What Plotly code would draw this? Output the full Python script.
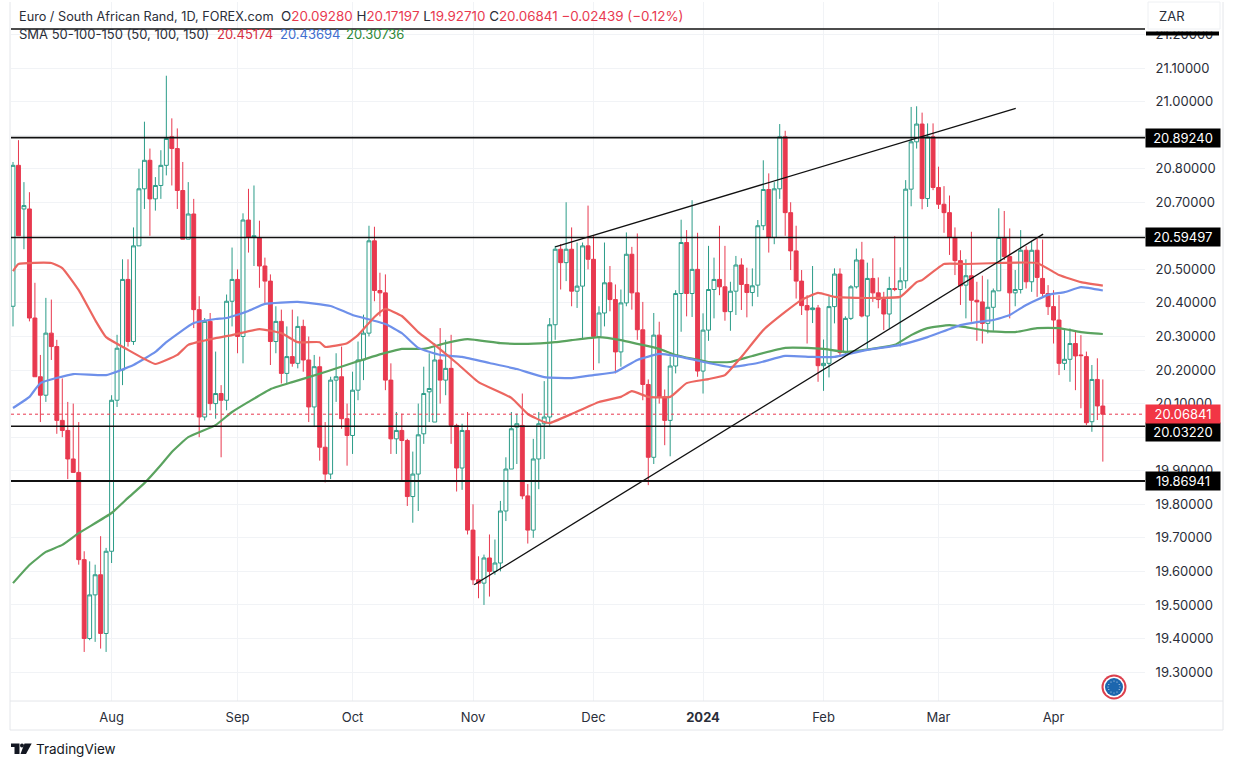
import plotly.graph_objects as go

# EUR/ZAR daily candles (Jul 2023 - Apr 2024)
opens = [
    20.39, 20.81, 20.68, 20.68, 20.355, 20.18, 20.125, 20.31, 20.27, 20.05,
    20.02, 19.935, 19.895, 19.635, 19.40, 19.53, 19.59, 19.415, 19.66, 20.11,
    20.20, 20.47, 20.285, 20.57, 20.74, 20.825, 20.71, 20.75, 20.81, 20.895,
    20.86, 20.735, 20.59, 20.665, 20.38, 20.06, 20.345, 20.10, 20.13, 20.11,
    20.405, 20.47, 20.30, 20.647, 20.595, 20.595, 20.51, 20.465, 20.285, 20.345,
    20.19, 20.24, 20.22, 20.33, 20.23, 20.09, 20.21, 19.97, 19.89, 20.17,
    20.18, 20.055, 20.005, 20.14, 20.23, 20.31, 20.585, 20.437, 20.43, 20.17,
    19.995, 20.02, 19.99, 19.823, 19.89, 20.01, 20.135, 20.045, 20.23, 20.17,
    20.205, 20.035, 19.908, 20.02, 19.723, 19.575, 19.565, 19.64, 19.60, 19.625,
    19.78, 19.905, 20.03, 20.035, 19.825, 19.723, 19.935, 20.04, 20.06, 20.335,
    20.56, 20.52, 20.56, 20.435, 20.45, 20.57, 20.53, 20.30, 20.37, 20.46,
    20.41, 20.254, 20.40, 20.545, 20.43, 20.32, 20.157, 19.94, 20.304, 20.12,
    20.05, 20.212, 20.428, 20.58, 20.428, 20.50, 20.197, 20.319, 20.44, 20.47,
    20.448, 20.374, 20.435, 20.513, 20.455, 20.431, 20.453, 20.63, 20.738, 20.595,
    20.74, 20.895, 20.669, 20.555, 20.465, 20.392, 20.38, 20.385, 20.213, 20.22,
    20.389, 20.486, 20.252, 20.354, 20.448, 20.528, 20.361, 20.473, 20.43, 20.41,
    20.367, 20.443, 20.44, 20.466, 20.739, 20.88, 20.933, 20.711, 20.895, 20.744,
    20.694, 20.669, 20.595, 20.526, 20.453, 20.481, 20.408, 20.403, 20.339, 20.387,
    20.436, 20.595, 20.538, 20.43, 20.44, 20.557, 20.463, 20.557, 20.473, 20.428,
    20.389, 20.349, 20.22, 20.232, 20.279, 20.245, 20.24, 20.046, 20.172, 20.0928,
]
highs = [
    20.82, 20.885, 20.76, 20.73, 20.46, 20.245, 20.415, 20.41, 20.29, 20.175,
    20.105, 20.10, 20.045, 19.66, 19.63, 19.62, 19.705, 19.67, 20.125, 20.305,
    20.53, 20.53, 20.625, 20.80, 20.94, 20.86, 20.775, 20.855, 21.077, 20.95,
    20.92, 20.82, 20.76, 20.71, 20.42, 20.355, 20.37, 20.255, 20.155, 20.425,
    20.565, 20.50, 20.667, 20.74, 20.75, 20.645, 20.535, 20.485, 20.39, 20.38,
    20.33, 20.38, 20.36, 20.35, 20.30, 20.245, 20.24, 20.045, 20.18, 20.25,
    20.27, 20.10, 20.195, 20.285, 20.365, 20.63, 20.627, 20.49, 20.485, 20.22,
    20.075, 20.07, 19.995, 19.957, 20.10, 20.21, 20.25, 20.28, 20.325, 20.29,
    20.305, 20.04, 20.04, 20.075, 19.80, 19.645, 19.65, 19.71, 19.695, 19.81,
    19.94, 20.075, 20.07, 20.13, 19.86, 19.995, 20.075, 20.167, 20.355, 20.57,
    20.575, 20.70, 20.625, 20.58, 20.58, 20.69, 20.60, 20.39, 20.58, 20.51,
    20.455, 20.44, 20.61, 20.567, 20.607, 20.403, 20.172, 20.37, 20.344, 20.142,
    20.24, 20.438, 20.648, 20.617, 20.706, 20.609, 20.369, 20.57, 20.535, 20.63,
    20.57, 20.463, 20.54, 20.533, 20.505, 20.503, 20.647, 20.825, 20.786, 20.76,
    20.933, 20.913, 20.70, 20.63, 20.498, 20.423, 20.51, 20.394, 20.291, 20.42,
    20.503, 20.503, 20.36, 20.453, 20.562, 20.582, 20.52, 20.533, 20.476, 20.433,
    20.478, 20.599, 20.506, 20.766, 20.984, 20.986, 20.967, 20.935, 20.935, 20.806,
    20.748, 20.72, 20.625, 20.557, 20.53, 20.612, 20.463, 20.481, 20.47, 20.443,
    20.682, 20.674, 20.622, 20.498, 20.617, 20.569, 20.585, 20.592, 20.589, 20.453,
    20.438, 20.423, 20.319, 20.324, 20.314, 20.304, 20.255, 20.215, 20.235, 20.17197,
]
lows = [
    20.33, 20.60, 20.56, 20.345, 20.18, 20.045, 20.105, 20.23, 20.01, 20.00,
    19.875, 19.895, 19.62, 19.36, 19.395, 19.39, 19.37, 19.36, 19.625, 20.09,
    20.155, 20.27, 20.275, 20.57, 20.68, 20.60, 20.675, 20.71, 20.78, 20.75,
    20.68, 20.59, 20.59, 20.325, 20.00, 20.05, 20.08, 20.055, 19.94, 20.08,
    20.33, 20.25, 20.22, 20.55, 20.51, 20.445, 20.40, 20.215, 20.25, 20.16,
    20.16, 20.21, 20.205, 20.195, 20.045, 20.03, 19.93, 19.865, 19.875, 20.105,
    20.025, 19.915, 19.95, 20.11, 20.17, 20.30, 20.405, 20.36, 20.14, 19.95,
    19.95, 19.87, 19.795, 19.745, 19.78, 19.98, 20.045, 20.045, 20.10, 20.125,
    19.98, 19.838, 19.843, 19.71, 19.56, 19.52, 19.50, 19.525, 19.59, 19.60,
    19.75, 19.905, 19.92, 19.815, 19.683, 19.70, 19.845, 19.935, 20.03, 20.29,
    20.44, 20.465, 20.39, 20.385, 20.295, 20.50, 20.20, 20.22, 20.33, 20.375,
    20.19, 20.21, 20.39, 20.38, 20.29, 20.11, 19.857, 19.92, 20.10, 19.976,
    19.943, 20.19, 20.314, 20.36, 20.358, 20.18, 20.13, 20.287, 20.354, 20.423,
    20.347, 20.317, 20.364, 20.379, 20.357, 20.39, 20.418, 20.617, 20.55, 20.575,
    20.71, 20.60, 20.498, 20.413, 20.364, 20.279, 20.34, 20.165, 20.138, 20.178,
    20.339, 20.24, 20.248, 20.349, 20.443, 20.357, 20.264, 20.403, 20.384, 20.319,
    20.324, 20.435, 20.27, 20.443, 20.688, 20.86, 20.679, 20.686, 20.736, 20.68,
    20.609, 20.543, 20.483, 20.394, 20.354, 20.344, 20.287, 20.279, 20.309, 20.317,
    20.436, 20.528, 20.354, 20.39, 20.428, 20.443, 20.433, 20.418, 20.418, 20.364,
    20.279, 20.185, 20.20, 20.165, 20.14, 20.086, 20.036, 20.016, 20.051, 19.9271,
]
closes = [
    20.81, 20.60, 20.69, 20.355, 20.18, 20.125, 20.31, 20.27, 20.05, 20.02,
    19.935, 19.895, 19.635, 19.40, 19.53, 19.59, 19.415, 19.66, 20.11, 20.265,
    20.47, 20.285, 20.57, 20.74, 20.825, 20.71, 20.75, 20.81, 20.89, 20.86,
    20.735, 20.59, 20.665, 20.38, 20.06, 20.345, 20.10, 20.13, 20.11, 20.405,
    20.47, 20.30, 20.647, 20.595, 20.60, 20.51, 20.465, 20.285, 20.345, 20.19,
    20.24, 20.22, 20.33, 20.23, 20.09, 20.21, 19.97, 19.89, 20.17, 20.18,
    20.055, 20.005, 20.14, 20.23, 20.31, 20.585, 20.437, 20.43, 20.17, 19.995,
    20.02, 19.99, 19.823, 19.89, 20.007, 20.13, 20.145, 20.23, 20.17, 20.205,
    20.035, 19.908, 20.02, 19.723, 19.575, 19.565, 19.64, 19.60, 19.625, 19.78,
    19.905, 20.025, 20.04, 19.825, 19.723, 19.935, 20.04, 20.06, 20.335, 20.56,
    20.52, 20.56, 20.435, 20.45, 20.57, 20.53, 20.30, 20.37, 20.46, 20.41,
    20.254, 20.40, 20.545, 20.43, 20.32, 20.157, 19.94, 20.304, 20.12, 20.05,
    20.212, 20.428, 20.58, 20.428, 20.50, 20.197, 20.319, 20.44, 20.47, 20.448,
    20.374, 20.435, 20.513, 20.455, 20.431, 20.451, 20.63, 20.738, 20.595, 20.74,
    20.895, 20.669, 20.555, 20.465, 20.392, 20.379, 20.385, 20.213, 20.22, 20.389,
    20.486, 20.252, 20.354, 20.448, 20.528, 20.361, 20.473, 20.43, 20.41, 20.367,
    20.443, 20.44, 20.466, 20.739, 20.88, 20.933, 20.711, 20.895, 20.744, 20.694,
    20.669, 20.595, 20.526, 20.451, 20.481, 20.408, 20.403, 20.339, 20.387, 20.436,
    20.595, 20.538, 20.43, 20.44, 20.557, 20.463, 20.557, 20.476, 20.428, 20.389,
    20.349, 20.22, 20.232, 20.279, 20.242, 20.243, 20.043, 20.172, 20.093, 20.06841,
]

# moving averages, read at the bars where the curves bend
sma50_bar = [0, 1, 7, 9, 12, 15, 17, 21, 24, 26, 30, 32, 37, 40, 45, 49, 52, 56, 57, 61,
             63, 66, 68, 71, 74, 77, 81, 85, 91, 94, 97, 98, 102, 107, 111, 113, 116, 120,
             123, 127, 130, 133, 137, 141, 144, 147, 150, 154, 158, 162, 165, 166, 170,
             174, 180, 187, 191, 195, 199]
sma50 = [20.495, 20.516, 20.519, 20.504, 20.438, 20.349, 20.298, 20.26, 20.233, 20.218,
         20.245, 20.275, 20.295, 20.304, 20.322, 20.31, 20.283, 20.283, 20.269, 20.28,
         20.304, 20.358, 20.382, 20.361, 20.313, 20.275, 20.221, 20.164, 20.117, 20.069,
         20.045, 20.042, 20.069, 20.105, 20.12, 20.137, 20.12, 20.12, 20.161, 20.173,
         20.185, 20.239, 20.319, 20.373, 20.409, 20.43, 20.418, 20.415, 20.415, 20.418,
         20.462, 20.468, 20.516, 20.516, 20.519, 20.519, 20.483, 20.462, 20.45174]
sma100_bar = [0, 3, 5, 11, 17, 22, 26, 28, 33, 37, 39, 43, 46, 52, 58, 62, 68, 71, 74, 78,
              82, 87, 92, 97, 102, 106, 110, 114, 118, 121, 127, 131, 136, 141, 146, 150,
              156, 162, 167, 173, 176, 179, 182, 185, 189, 192, 195, 199]
sma100 = [20.087, 20.12, 20.161, 20.188, 20.185, 20.215, 20.254, 20.283, 20.34, 20.352,
          20.355, 20.376, 20.397, 20.403, 20.391, 20.364, 20.337, 20.31, 20.266, 20.245,
          20.239, 20.221, 20.203, 20.179, 20.176, 20.185, 20.194, 20.23, 20.248, 20.242,
          20.221, 20.209, 20.221, 20.242, 20.239, 20.239, 20.26, 20.275, 20.298, 20.334,
          20.343, 20.349, 20.364, 20.394, 20.424, 20.432, 20.447, 20.43694]
sma150_bar = [0, 3, 6, 9, 12, 18, 21, 24, 27, 29, 32, 37, 40, 43, 47, 51, 57, 62, 68, 71,
              75, 79, 83, 89, 94, 99, 102, 107, 111, 114, 118, 121, 127, 131, 135, 141,
              145, 148, 152, 158, 161, 164, 167, 171, 174, 178, 183, 187, 191, 195, 199]
sma150 = [19.565, 19.619, 19.658, 19.679, 19.714, 19.774, 19.819, 19.863, 19.917, 19.956,
          20.0, 20.036, 20.075, 20.105, 20.143, 20.164, 20.194, 20.221, 20.251, 20.263,
          20.263, 20.28, 20.292, 20.28, 20.278, 20.283, 20.289, 20.298, 20.289, 20.278,
          20.263, 20.245, 20.224, 20.224, 20.242, 20.266, 20.266, 20.263, 20.254, 20.266,
          20.275, 20.304, 20.325, 20.334, 20.328, 20.316, 20.313, 20.325, 20.325, 20.313,
          20.30736]

# drawn levels and trend lines
levels = [21.2165, 20.8924, 20.59497, 20.0322, 19.86941]
level_labels = ["", "20.89240", "20.59497", "20.03220", "19.86941"]
level_widths = [1.5, 1.8, 1.5, 1.5, 2]
trend_lower_bar = [84.2, 188.1]
trend_lower = [19.56, 20.605]
trend_upper_bar = [99, 183.1]
trend_upper = [20.567, 20.98]
last_price = 20.06841

price_ticks = [19.3, 19.4, 19.5, 19.6, 19.7, 19.8, 19.9, 20.0, 20.1, 20.2, 20.3, 20.4,
               20.5, 20.6, 20.7, 20.8, 20.9, 21.0, 21.1, 21.2]
# 20.0, 20.6 and 20.9 sit behind the level tags, so the chart leaves them out
price_labels = ["19.30000", "19.40000", "19.50000", "19.60000", "19.70000", "19.80000",
                "19.90000", "", "20.10000", "20.20000", "20.30000", "20.40000", "20.50000",
                "", "20.70000", "20.80000", "", "21.00000", "21.10000", "21.20000"]
month_bars = [18, 41, 62, 84, 106, 126, 148, 169, 190]
month_labels = ["Aug", "Sep", "Oct", "Nov", "Dec", "<b>2024</b>", "Feb", "Mar", "Apr"]

RED = "#E8394F"
TEAL = "#2B9C88"
TEXT = "#2A2E39"
GRID = "#F1F3F6"
BORDER = "#E4E6EA"
FONT = "Inter"

# plot box in page pixels
WIDTH, HEIGHT = 1234, 768
LEFT, RIGHT, TOP, BOTTOM = 11, 1145, 2, 701


def px(x):
    return (x - LEFT) / (RIGHT - LEFT)


def py(y):
    return (BOTTOM - y) / (BOTTOM - TOP)


def box(x0, y0, x1, y1, **kw):
    return dict(type="rect", xref="paper", yref="paper", x0=px(x0), x1=px(x1),
                y0=py(y0), y1=py(y1), **kw)


def dot(cx, cy, r, color):
    return dict(type="circle", xref="paper", yref="paper", layer="above",
                x0=px(cx - r), x1=px(cx + r), y0=py(cy + r), y1=py(cy - r),
                fillcolor=color, line=dict(width=0))


def label(x, y, text, **kw):
    # annotation padding pushes the text about 2px right
    return dict(xref="paper", yref="paper", x=px(x - 2), y=py(y), text=text, showarrow=False,
                xanchor="left", yanchor="middle", **kw)


bars = list(range(len(closes)))

fig = go.Figure()

fig.add_trace(go.Candlestick(
    x=bars, open=opens, high=highs, low=lows, close=closes,
    increasing=dict(fillcolor="#FFFFFF", line=dict(color=TEAL, width=1)),
    decreasing=dict(fillcolor=RED, line=dict(color=RED, width=1)),
    whiskerwidth=0,
))

for xs, ys, color in [(sma150_bar, sma150, "#5AA35F"),
                      (sma100_bar, sma100, "#6E90EA"),
                      (sma50_bar, sma50, "#EC6660")]:
    fig.add_trace(go.Scatter(x=xs, y=ys, mode="lines",
                             line=dict(color=color, width=2.2, shape="spline", smoothing=0.4)))

for xs, ys in [(trend_lower_bar, trend_lower), (trend_upper_bar, trend_upper)]:
    fig.add_trace(go.Scatter(x=xs, y=ys, mode="lines", line=dict(color="#111111", width=1.3)))

shapes = [
    # frame and axis band
    dict(type="line", xref="paper", yref="paper", x0=px(10), x1=px(10), y0=py(730), y1=py(2),
         line=dict(color=BORDER, width=1)),
    dict(type="line", xref="paper", yref="paper", x0=px(1223), x1=px(1223), y0=py(730), y1=py(2),
         line=dict(color=BORDER, width=1)),
    dict(type="line", xref="paper", yref="paper", x0=px(10), x1=px(1223), y0=py(701), y1=py(701),
         line=dict(color=BORDER, width=1)),
    dict(type="line", xref="paper", yref="paper", x0=px(10), x1=px(1223), y0=py(730), y1=py(730),
         line=dict(color=BORDER, width=1)),
    # currency box hides the top of the 21.2 tick label
    box(1146, 0, 1222, 31.5, layer="above", fillcolor="#FFFFFF", line=dict(width=0)),
    box(1146, 31.5, 1219, 35.5, layer="above", fillcolor="#000000", line=dict(width=0)),
    box(1148, 2, 1220, 29, layer="above", fillcolor="#FFFFFF", line=dict(color="#EEF0F3", width=1)),
    # pair flag badge
    dot(1114, 687, 12.5, "#DC3F4C"),
    dot(1114, 687, 10.5, "#FFFFFF"),
    dot(1114, 687, 9, "#1C66AE"),
    # TradingView logo
    dict(type="path", xref="paper", yref="paper", layer="above", fillcolor="#131722", line=dict(width=0),
         path=f"M{px(11)},{py(743.5)} L{px(19.5)},{py(743.5)} L{px(19.5)},{py(754)} L{px(14.5)},{py(754)} "
              f"L{px(14.5)},{py(747)} L{px(11)},{py(747)} Z"),
    dict(type="path", xref="paper", yref="paper", layer="above", fillcolor="#131722", line=dict(width=0),
         path=f"M{px(24.5)},{py(743.5)} L{px(31.7)},{py(743.5)} L{px(26)},{py(754)} L{px(20.5)},{py(754)} Z"),
    dot(22, 745.6, 2, "#131722"),
]
# ring of stars on the flag
for sx, sy in [(1114, 681), (1117, 682), (1119.2, 684.5), (1120, 687), (1119.2, 689.5), (1117, 692),
               (1114, 693), (1111, 692), (1108.8, 689.5), (1108, 687), (1108.8, 684.5), (1111, 682)]:
    shapes.append(dot(sx, sy, 0.6, "#CFDDEB"))

annotations = [
    label(19, 16, "Euro / South African Rand, 1D, FOREX.com", font=dict(family=FONT, size=12.7, color=TEXT)),
    label(281, 16,
          f"O<span style='color:{RED}'>20.09280</span> H<span style='color:{RED}'>20.17197</span> "
          f"L<span style='color:{RED}'>19.92710</span> C<span style='color:{RED}'>20.06841</span> "
          f"<span style='color:{RED}'>\u22120.02439 (\u22120.12%)</span>",
          font=dict(family=FONT, size=13.4, color=TEXT)),
    label(19, 34, "SMA 50-100-150 (50, 100, 150)", font=dict(family=FONT, size=13, color=TEXT)),
    label(217, 34, "20.45174", font=dict(family=FONT, size=13, color="#D6303F")),
    label(280, 34, "20.43694", font=dict(family=FONT, size=13, color="#3F6FCF")),
    label(346, 34, "20.30736", font=dict(family=FONT, size=13, color="#2F8A3A")),
    label(1159, 16, "ZAR", font=dict(family=FONT, size=13, color=TEXT)),
    label(36, 749, "TradingView", font=dict(family=FONT, size=13.5, color="#131722")),
]
for lv, text in zip(levels, level_labels):
    if text:
        # the 20.03220 tag is pushed down clear of the last-price tag
        annotations.append(dict(x=1, xref="paper", y=lv, yref="y", text=text, showarrow=False,
                                xanchor="left", yanchor="middle", width=74, height=18, align="center",
                                yshift=-6 if text == "20.03220" else 0,
                                bgcolor="#000000", borderpad=0,
                                font=dict(family=FONT, size=13, color="#FFFFFF")))
annotations.append(dict(x=1, xref="paper", y=last_price, yref="y", text="20.06841", showarrow=False,
                        xanchor="left", yanchor="middle", width=74, height=18, align="center",
                        bgcolor="#F23645", borderpad=0,
                        font=dict(family=FONT, size=13, color="#FFFFFF")))

fig.update_layout(
    width=WIDTH,
    height=HEIGHT,
    margin=dict(l=LEFT, r=WIDTH - RIGHT, t=TOP, b=HEIGHT - BOTTOM, pad=0),
    plot_bgcolor="#FFFFFF",
    paper_bgcolor="#FFFFFF",
    showlegend=False,
    shapes=shapes,
    annotations=annotations,
    boxgap=0.25,
    boxgroupgap=0.05,
    font=dict(family=FONT, size=13, color=TEXT),
    xaxis=dict(
        range=[-0.365, 206.7],
        rangeslider=dict(visible=False),
        tickmode="array",
        tickvals=month_bars,
        ticktext=month_labels,
        showgrid=True,
        gridcolor=GRID,
        zeroline=False,
        showline=False,
        ticks="outside",
        ticklen=4,
        tickcolor="rgba(0,0,0,0)",
        tickfont=dict(family=FONT, size=13, color=TEXT),
    ),
    yaxis=dict(
        side="right",
        range=[19.2138, 21.2967],
        tickmode="array",
        tickvals=price_ticks,
        ticktext=price_labels,
        showgrid=True,
        gridcolor=GRID,
        zeroline=False,
        showline=False,
        ticks="outside",
        ticklen=7,
        tickcolor="rgba(0,0,0,0)",
        tickfont=dict(family=FONT, size=13, color=TEXT),
    ),
)

# hlines go on last, update_layout(shapes=...) would merge into them otherwise
for lv, w in zip(levels, level_widths):
    fig.add_hline(y=lv, line=dict(color="#111111", width=w))
fig.add_hline(y=last_price, line=dict(color=RED, width=1, dash="dot"))

# the page's default body margin would shift everything 8px
fig.write_html("out.html", config={"displayModeBar": False},
               post_script="document.body.style.margin='0';")
